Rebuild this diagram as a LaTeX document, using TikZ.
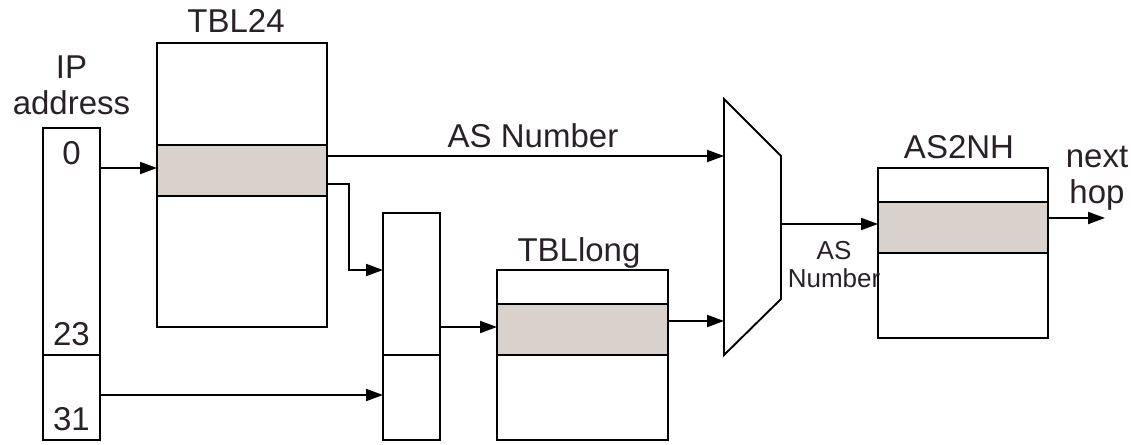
\documentclass[tikz,border=0pt]{standalone}
\usepackage{fontspec}
\setmainfont{Liberation Sans}
\usetikzlibrary{arrows.meta}
\definecolor{ink}{RGB}{42,33,40}
\definecolor{hit}{RGB}{217,209,204}
\tikzset{
  box/.style={draw, line width=1.9pt, inner sep=0pt, outer sep=0pt},
  band/.style={box, fill=hit},
  lbl/.style={text=ink, inner sep=0pt, font=\fontsize{33}{36}\selectfont, anchor=base},
  small/.style={text=ink, inner sep=0pt, font=\fontsize{26}{28}\selectfont, align=center, anchor=base},
  wire/.style={line width=1.9pt, -{Triangle[length=17pt,width=12pt]}},
  seg/.style={line width=1.9pt}
}
\begin{document}
\begin{tikzpicture}[x=1pt,y=-1pt]
\useasboundingbox (0,0) rectangle (1131,444);

% IP address register
\node[box, minimum width=57pt, minimum height=312pt] (ip) at (71.5,284) {};
\draw[seg] (ip.west |- 0,355) -- (ip.east |- 0,355);
\node[lbl, align=center] (iplbl) at (71.5,114) {IP\\address};
\node[lbl] (b0) at (71.5,164) {0};
\node[lbl] (b23) at (71.5,345) {23};
\node[lbl] (b31) at (71.5,430) {31};

% TBL24
\node[box, minimum width=170pt, minimum height=284pt] (tbl) at (242,185) {};
\node[band, minimum width=170pt, minimum height=51pt] (hit24) at (242,170.5) {};
\node[lbl] (tbllbl) at (236,33) {TBL24};

% index composition
\node[box, minimum width=57pt, minimum height=227pt] (idx) at (411.5,326.5) {};
\draw[seg] (idx.west |- 0,355) -- (idx.east |- 0,355);

% TBLlong
\node[box, minimum width=171pt, minimum height=170pt] (tlong) at (582.5,355) {};
\node[band, minimum width=171pt, minimum height=51pt] (hitlong) at (582.5,329.5) {};
\node[lbl] (tlonglbl) at (579,261.7) {TBLlong};

% multiplexer
\coordinate (mA) at (724,99);
\coordinate (mB) at (781,156);
\coordinate (mC) at (781,299);
\coordinate (mD) at (724,355);
\draw[seg, line join=miter] (mA) -- (mB) -- (mC) -- (mD) -- cycle;
\coordinate (min1) at (724,156);
\coordinate (min2) at (724,321);
\coordinate (mout) at (781,224);

% AS2NH
\node[box, minimum width=170pt, minimum height=170pt] (nh) at (963,253) {};
\node[band, minimum width=170pt, minimum height=51pt] (hitnh) at (963,227.5) {};
\node[lbl] (nhlbl) at (959,158) {AS2NH};
\coordinate (nhout) at (1105,218);

% connections
\draw[wire] (ip.east |- 0,168) -- (hit24.west |- 0,168);
\draw[wire] (hit24.east |- min1) -- (min1);
\node[lbl] (asn) at (533,147.7) {AS Number};
\draw[wire] (hit24.east |- 0,184) -- (349,184) |- (idx.west |- 0,270);
\draw[wire] (ip.east |- 0,395) -- (idx.west |- 0,395);
\draw[wire] (idx.east |- 0,327) -- (hitlong.west |- 0,327);
\draw[wire] (hitlong.east |- min2) -- (min2);
\draw[wire] (mout) -- (hitnh.west |- mout);
\node[small] (asn2) at (834,287) {AS\\Number};
\draw[wire] (hitnh.east |- nhout) -- (nhout);
\node[lbl, align=center] (nhop) at (1097,203) {next\\hop};
\end{tikzpicture}
\end{document}
